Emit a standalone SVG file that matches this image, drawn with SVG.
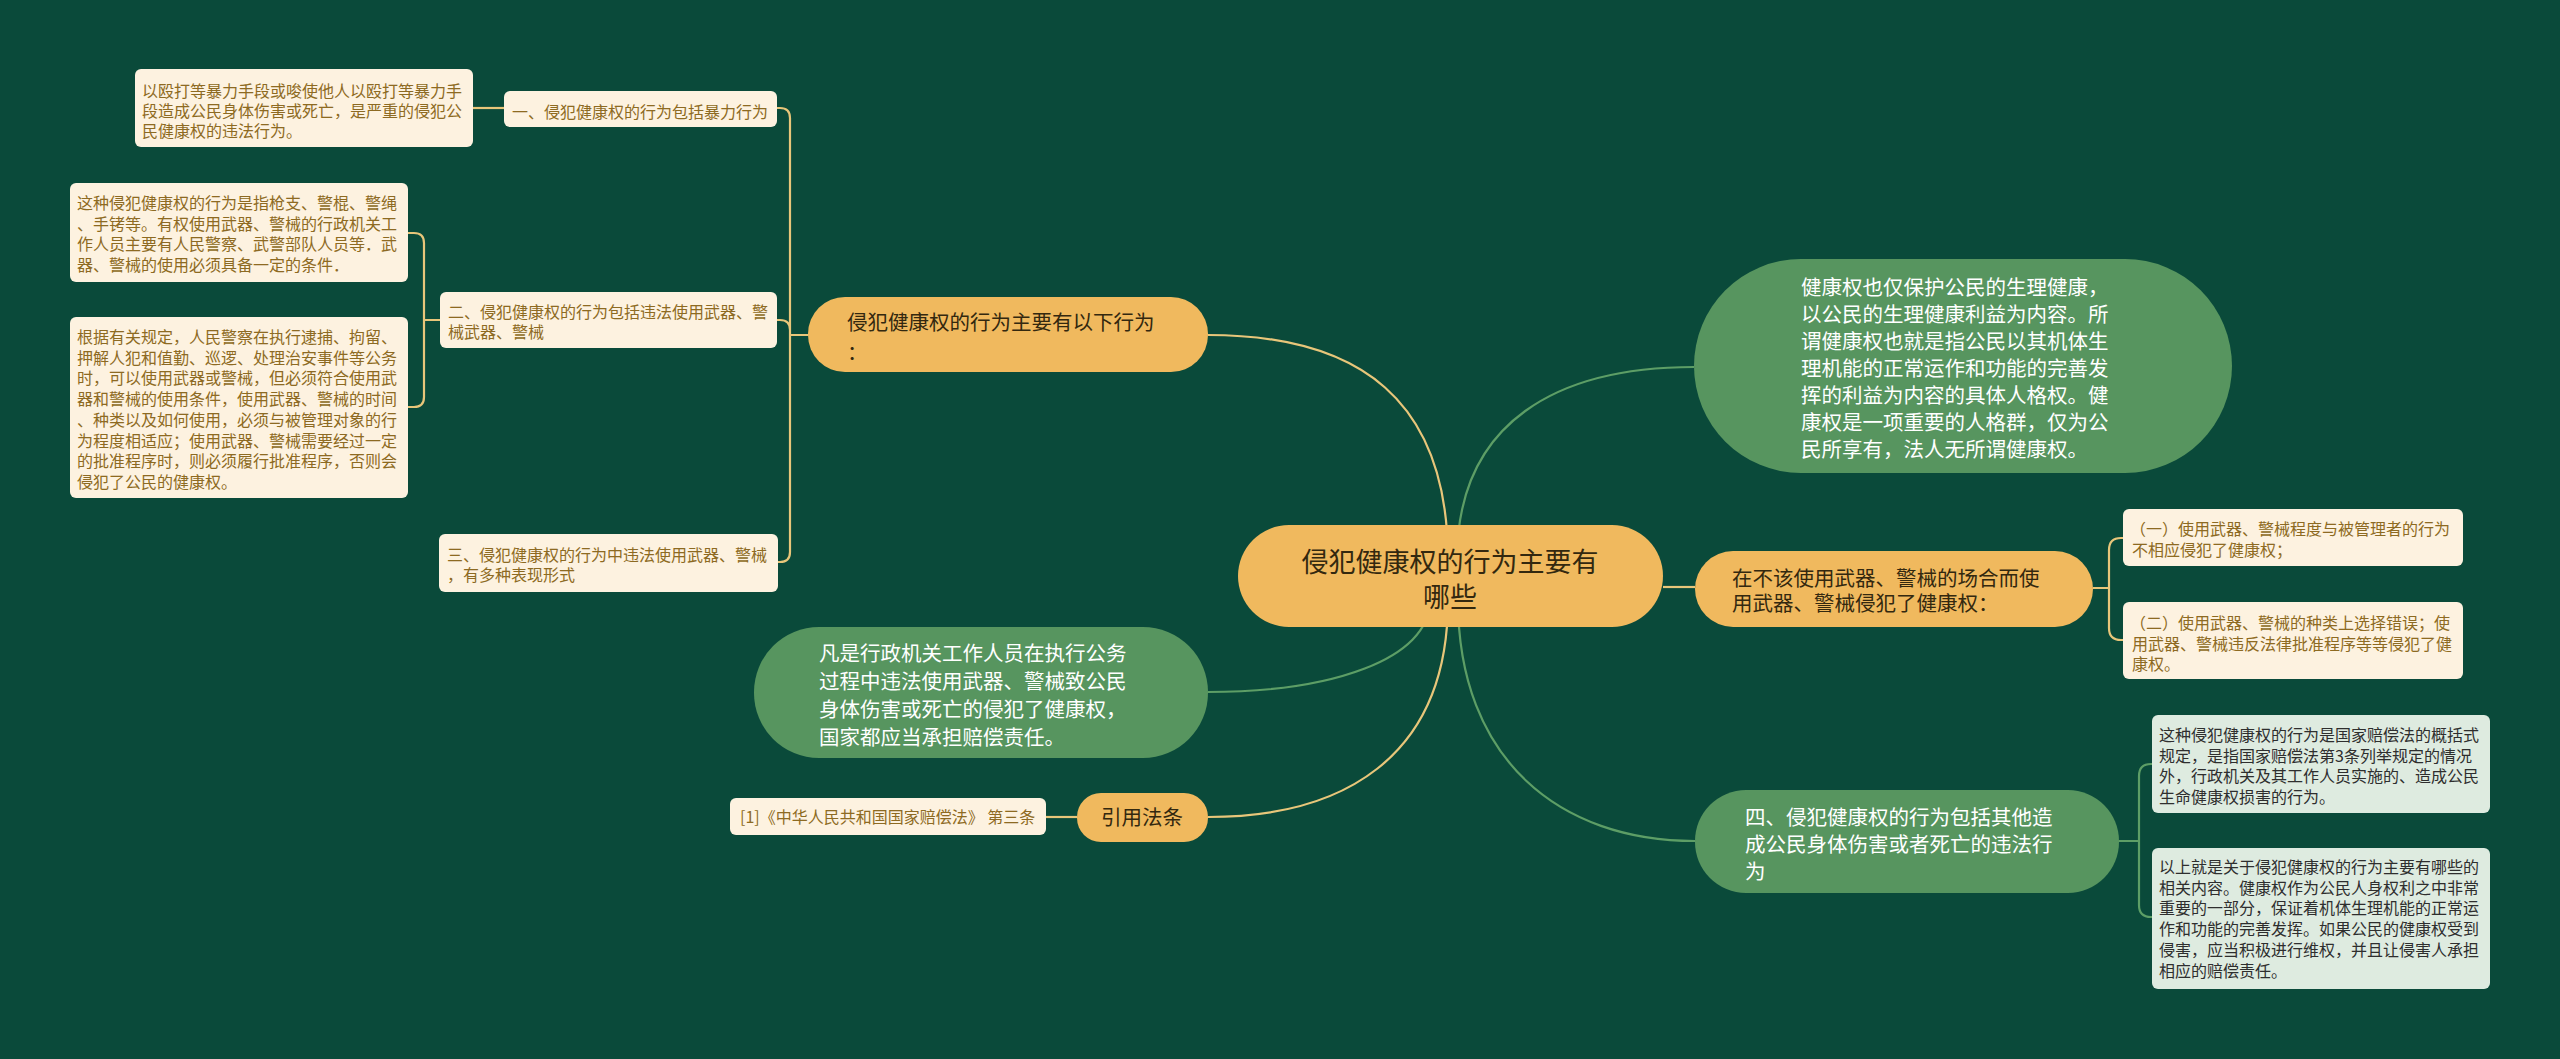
<svg xmlns="http://www.w3.org/2000/svg" width="2560" height="1059" viewBox="0 0 2560 1059">
<style>
text{font-family:"Noto Sans CJK SC","Noto Sans",sans-serif;}
.yl{fill:#f0b95e;}
.gn{fill:#57955f;}
.cr{fill:#fdf2e0;}
.mt{fill:#deebe0;}
.tr{font-size:27px;fill:#33280f;}
.ty{font-size:20.5px;fill:#33280f;}
.tg{font-size:20.5px;fill:#ffffff;}
.tc{font-size:16px;fill:#8d6a22;}
.tm{font-size:16px;fill:#2e2e2e;}
.cy{fill:none;stroke:#e8c67a;stroke-width:2.2;}
.cg{fill:none;stroke:#5d9e66;stroke-width:2.2;}
</style>
<rect width="2560" height="1059" fill="#0a4a3a"/>
<g id="connectors">
<path class="cy" d="M1448 560 C1448 400 1360 335 1208 335"/>
<path class="cg" d="M1430 600 C1430 660 1330 692 1208 692"/>
<path class="cy" d="M1448 600 C1448 760 1340 817 1208 817"/>
<path class="cg" d="M1457 560 C1457 420 1560 367 1694 367"/>
<path class="cy" d="M1663 587 H1695"/>
<path class="cg" d="M1458 600 C1458 760 1560 841 1695 841"/>
<path class="cy" d="M777 108 H780 Q790 108 790 118 V552 Q790 562 780 562 H778 M777 320 H780 Q790 320 790 330 M790 335 H808"/>
<path class="cy" d="M473 108 H504"/>
<path class="cy" d="M440 320 H424 M408 233 H414 Q424 233 424 243 V397 Q424 407 414 407 H408"/>
<path class="cy" d="M1046 817 H1077"/>
<path class="cy" d="M2093 588 H2109 M2123 538 H2121 Q2109 538 2109 550 V628 Q2109 640 2121 640 H2123"/>
<path class="cg" d="M2119 841 H2139 M2152 764 H2151 Q2139 764 2139 776 V905 Q2139 917 2151 917 H2152"/>
</g>
<g id="root">
<rect class="yl" x="1238" y="525" width="425" height="102" rx="51"/>
<text class="tr" x="1450" y="572" text-anchor="middle">侵犯健康权的行为主要有</text>
<text class="tr" x="1450" y="607" text-anchor="middle">哪些</text>
</g>
<g id="node-L">
<rect class="yl" x="808" y="297" width="400" height="75" rx="37"/>
<text class="ty" x="847" y="330">侵犯健康权的行为主要有以下行为</text>
<text class="ty" x="847" y="360">：</text>
</g>
<g id="node-A">
<rect class="cr" x="504" y="91" width="273" height="36" rx="6"/>
<text class="tc" x="512" y="118">一、侵犯健康权的行为包括暴力行为</text>
</g>
<g id="node-A1">
<rect class="cr" x="135" y="69" width="338" height="78" rx="6"/>
<text class="tc" x="142" y="97">以殴打等暴力手段或唆使他人以殴打等暴力手</text>
<text class="tc" x="142" y="117">段造成公民身体伤害或死亡，是严重的侵犯公</text>
<text class="tc" x="142" y="137">民健康权的违法行为。</text>
</g>
<g id="node-B">
<rect class="cr" x="440" y="292" width="337" height="56" rx="6"/>
<text class="tc" x="448" y="318">二、侵犯健康权的行为包括违法使用武器、警</text>
<text class="tc" x="448" y="338">械武器、警械</text>
</g>
<g id="node-B1">
<rect class="cr" x="70" y="183" width="338" height="99" rx="6"/>
<text class="tc" x="77" y="209">这种侵犯健康权的行为是指枪支、警棍、警绳</text>
<text class="tc" x="77" y="229.7">、手铐等。有权使用武器、警械的行政机关工</text>
<text class="tc" x="77" y="250.4">作人员主要有人民警察、武警部队人员等．武</text>
<text class="tc" x="77" y="271.1">器、警械的使用必须具备一定的条件．</text>
</g>
<g id="node-B2">
<rect class="cr" x="70" y="317" width="338" height="181" rx="6"/>
<text class="tc" x="77" y="343">根据有关规定，人民警察在执行逮捕、拘留、</text>
<text class="tc" x="77" y="363.7">押解人犯和值勤、巡逻、处理治安事件等公务</text>
<text class="tc" x="77" y="384.4">时，可以使用武器或警械，但必须符合使用武</text>
<text class="tc" x="77" y="405.1">器和警械的使用条件，使用武器、警械的时间</text>
<text class="tc" x="77" y="425.8">、种类以及如何使用，必须与被管理对象的行</text>
<text class="tc" x="77" y="446.5">为程度相适应；使用武器、警械需要经过一定</text>
<text class="tc" x="77" y="467.2">的批准程序时，则必须履行批准程序，否则会</text>
<text class="tc" x="77" y="487.9">侵犯了公民的健康权。</text>
</g>
<g id="node-C">
<rect class="cr" x="439" y="534" width="339" height="58" rx="6"/>
<text class="tc" x="447" y="561">三、侵犯健康权的行为中违法使用武器、警械</text>
<text class="tc" x="447" y="581">，有多种表现形式</text>
</g>
<g id="node-G1">
<rect class="gn" x="754" y="627" width="454" height="131" rx="65"/>
<text class="tg" x="819" y="661">凡是行政机关工作人员在执行公务</text>
<text class="tg" x="819" y="689">过程中违法使用武器、警械致公民</text>
<text class="tg" x="819" y="717">身体伤害或死亡的侵犯了健康权，</text>
<text class="tg" x="819" y="745">国家都应当承担赔偿责任。</text>
</g>
<g id="node-Y">
<rect class="yl" x="1077" y="793" width="131" height="49" rx="24"/>
<text class="ty" x="1142" y="825" text-anchor="middle">引用法条</text>
</g>
<g id="node-Y1">
<rect class="cr" x="730" y="798" width="316" height="37" rx="6"/>
<text class="tc" x="740" y="823">[1]《中华人民共和国国家赔偿法》 第三条</text>
</g>
<g id="node-R1">
<rect class="gn" x="1694" y="259" width="538" height="214" rx="107"/>
<text class="tg" x="1801" y="295">健康权也仅保护公民的生理健康，</text>
<text class="tg" x="1801" y="322">以公民的生理健康利益为内容。所</text>
<text class="tg" x="1801" y="349">谓健康权也就是指公民以其机体生</text>
<text class="tg" x="1801" y="376">理机能的正常运作和功能的完善发</text>
<text class="tg" x="1801" y="403">挥的利益为内容的具体人格权。健</text>
<text class="tg" x="1801" y="430">康权是一项重要的人格群，仅为公</text>
<text class="tg" x="1801" y="457">民所享有，法人无所谓健康权。</text>
</g>
<g id="node-R2">
<rect class="yl" x="1695" y="551" width="398" height="76" rx="38"/>
<text class="ty" x="1732" y="586">在不该使用武器、警械的场合而使</text>
<text class="ty" x="1732" y="611">用武器、警械侵犯了健康权：</text>
</g>
<g id="node-R2a">
<rect class="cr" x="2123" y="509" width="340" height="57" rx="6"/>
<text class="tc" x="2130" y="535">（一）使用武器、警械程度与被管理者的行为</text>
<text class="tc" x="2132" y="556">不相应侵犯了健康权；</text>
</g>
<g id="node-R2b">
<rect class="cr" x="2123" y="602" width="340" height="77" rx="6"/>
<text class="tc" x="2130" y="629">（二）使用武器、警械的种类上选择错误；使</text>
<text class="tc" x="2132" y="649.5">用武器、警械违反法律批准程序等等侵犯了健</text>
<text class="tc" x="2132" y="670">康权。</text>
</g>
<g id="node-R3">
<rect class="gn" x="1695" y="790" width="424" height="103" rx="51"/>
<text class="tg" x="1745" y="825">四、侵犯健康权的行为包括其他造</text>
<text class="tg" x="1745" y="852">成公民身体伤害或者死亡的违法行</text>
<text class="tg" x="1745" y="879">为</text>
</g>
<g id="node-R3a">
<rect class="mt" x="2152" y="715" width="338" height="98" rx="6"/>
<text class="tm" x="2159" y="741">这种侵犯健康权的行为是国家赔偿法的概括式</text>
<text class="tm" x="2159" y="761.7">规定，是指国家赔偿法第3条列举规定的情况</text>
<text class="tm" x="2159" y="782.4">外，行政机关及其工作人员实施的、造成公民</text>
<text class="tm" x="2159" y="803.1">生命健康权损害的行为。</text>
</g>
<g id="node-R3b">
<rect class="mt" x="2152" y="848" width="338" height="141" rx="6"/>
<text class="tm" x="2159" y="873">以上就是关于侵犯健康权的行为主要有哪些的</text>
<text class="tm" x="2159" y="893.7">相关内容。健康权作为公民人身权利之中非常</text>
<text class="tm" x="2159" y="914.4">重要的一部分，保证着机体生理机能的正常运</text>
<text class="tm" x="2159" y="935.1">作和功能的完善发挥。如果公民的健康权受到</text>
<text class="tm" x="2159" y="955.8">侵害，应当积极进行维权，并且让侵害人承担</text>
<text class="tm" x="2159" y="976.5">相应的赔偿责任。</text>
</g>
</svg>
